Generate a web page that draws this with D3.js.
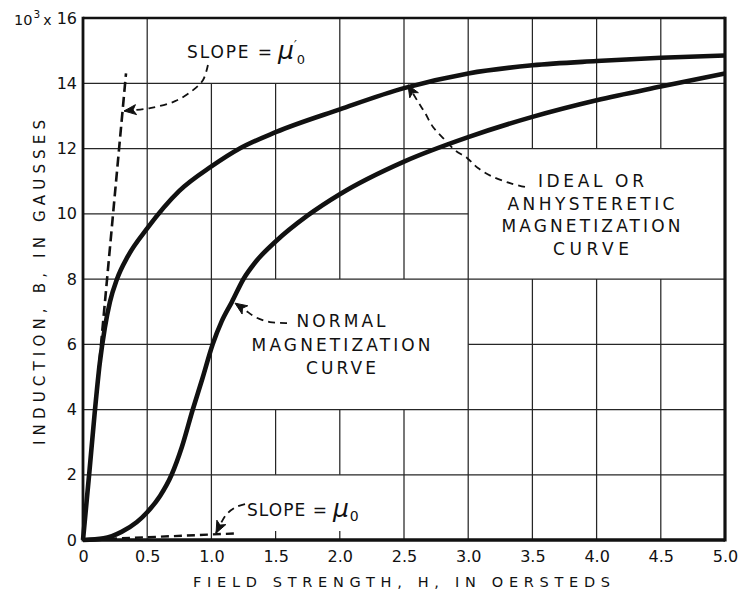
<!DOCTYPE html>
<html><head><meta charset="utf-8">
<script src="https://cdn.jsdelivr.net/npm/d3@7"></script>
<style>
body{margin:0;background:#fff;}
svg text{font-family:"DejaVu Sans",sans-serif;fill:#111;}
</style></head><body>
<svg id="c" width="745" height="592"></svg>
<script>
// ---------- data ----------
const xTicks=[0,0.5,1.0,1.5,2.0,2.5,3.0,3.5,4.0,4.5,5.0];
const xTickLabels=["0","0.5","1.0","1.5","2.0","2.5","3.0","3.5","4.0","4.5","5.0"];
const yTicks=[0,2,4,6,8,10,12,14,16];
const yTickLabels=["0","2","4","6","8","10","12","14","16"];
const yUnitPrefix="10";
const yUnitExp="3";
const xTitle="FIELD STRENGTH, H, IN OERSTEDS";
const yTitle="INDUCTION, B, IN GAUSSES";

// ideal (anhysteretic) magnetization curve
const idealH=[0,0.05,0.09,0.13,0.17,0.21,0.265,0.35,0.5,0.75,1.0,1.22,1.5,2.0,2.5,3.0,3.5,4.0,4.5,5.0];
const idealB=[0,2.1,3.85,5.4,6.5,7.3,8.0,8.7,9.55,10.7,11.45,12.0,12.5,13.2,13.85,14.3,14.55,14.68,14.78,14.85];
// normal magnetization curve
const normalH=[0,0.16,0.3,0.42,0.5,0.6,0.69,0.77,0.855,0.93,1.01,1.08,1.16,1.25,1.35,1.5,1.75,2.0,2.5,3.0,3.5,4.0,4.5,5.0];
const normalB=[0,0.05,0.25,0.55,0.85,1.35,2.0,2.85,4.0,4.95,6.0,6.7,7.3,8.0,8.55,9.15,9.95,10.6,11.6,12.35,12.97,13.48,13.9,14.3];
// tangent lines
const slopeMu0PrimeH=[0,0.335];
const slopeMu0PrimeB=[0,14.3];
const slopeMu0H=[0,1.18];
const slopeMu0B=[0,0.2];

// blank (label) areas of the grid: H range x B range
const blankH0=[0.5,3.0,1.0,1.0];
const blankH1=[2.0,5.0,3.0,2.5];
const blankB0=[14,8,4,0];
const blankB1=[16,12,8,2];

// annotation leader curves (H,B)
const arrowMu0PrimeH=[0.973,0.935,0.857,0.717,0.522,0.32];
const arrowMu0PrimeB=[14.56,14.10,13.79,13.45,13.24,13.15];
const arrowIdealH=[3.442,3.326,3.193,3.076,2.991,2.897,2.819,2.726,2.664,2.609,2.531];
const arrowIdealB=[10.82,10.94,11.13,11.40,11.71,11.95,12.26,12.66,13.09,13.43,13.95];
const arrowNormalH=[1.589,1.456,1.339,1.262,1.184];
const arrowNormalB=[6.65,6.68,6.84,7.05,7.26];
const arrowMu0H=[1.262,1.192,1.121,1.075,1.036];
const arrowMu0B=[1.10,1.01,0.80,0.52,0.21];

const idealLabel=["IDEAL OR","ANHYSTERETIC","MAGNETIZATION","CURVE"];
const normalLabel=["NORMAL","MAGNETIZATION","CURVE"];
const slopeWord="SLOPE =";
const muChar="\u03BC";

// ---------- layout ----------
const svg=d3.select("#c");
const x=d3.scaleLinear().domain([0,5]).range([83,725]);
const y=d3.scaleLinear().domain([0,16]).range([540,18]);
const ink="#111";

const zip=(a,b)=>a.map((v,i)=>[v,b[i]]);

// grid with blank label areas
function segments(v,isVertical){
  const full=isVertical?[0,16]:[0,5];
  let cuts=[];
  blankH0.forEach((h0,i)=>{
    const h1=blankH1[i],b0=blankB0[i],b1=blankB1[i];
    if(isVertical){ if(v>h0+1e-9&&v<h1-1e-9) cuts.push([b0,b1]); }
    else { if(v>b0+1e-9&&v<b1-1e-9) cuts.push([h0,h1]); }
  });
  cuts.sort((a,b)=>a[0]-b[0]);
  const segs=[];let s=full[0];
  cuts.forEach(c=>{ if(c[0]>s) segs.push([s,c[0]]); s=Math.max(s,c[1]); });
  if(s<full[1]) segs.push([s,full[1]]);
  return segs;
}
const grid=svg.append("g").attr("stroke","#262626").attr("stroke-width",1.25).attr("fill","none");
xTicks.slice(1,-1).forEach(v=>{
  segments(v,true).forEach(sg=>{
    grid.append("line").attr("x1",x(v)).attr("x2",x(v)).attr("y1",y(sg[0])).attr("y2",y(sg[1]));
  });
  blankH0.forEach((h0,i)=>{
    if(blankB0[i]===0&&v>h0&&v<blankH1[i]){
      grid.append("line").attr("x1",x(v)).attr("x2",x(v)).attr("y1",y(0)).attr("y2",y(0)-9);
    }
  });
});
yTicks.slice(1,-1).forEach(v=>{
  segments(v,false).forEach(sg=>{
    grid.append("line").attr("x1",x(sg[0])).attr("x2",x(sg[1])).attr("y1",y(v)).attr("y2",y(v));
  });
});

// tangent dashed lines
const lineGen=d3.line().x(d=>x(d[0])).y(d=>y(d[1]));
svg.append("path").attr("d",lineGen(zip(slopeMu0PrimeH,slopeMu0PrimeB)))
  .attr("fill","none").attr("stroke",ink).attr("stroke-width",2.6).attr("stroke-dasharray","10,5");
svg.append("path").attr("d",lineGen(zip(slopeMu0H,slopeMu0B)))
  .attr("fill","none").attr("stroke",ink).attr("stroke-width",2.4).attr("stroke-dasharray","8,5");

// curves
const curveGen=d3.line().x(d=>x(d[0])).y(d=>y(d[1])).curve(d3.curveMonotoneX);
svg.append("path").attr("d",curveGen(zip(idealH,idealB)))
  .attr("fill","none").attr("stroke",ink).attr("stroke-width",4.6).attr("stroke-linejoin","round");
svg.append("path").attr("d",curveGen(zip(normalH,normalB)))
  .attr("fill","none").attr("stroke",ink).attr("stroke-width",4.6).attr("stroke-linejoin","round");

// frame
svg.append("line").attr("x1",x(0)).attr("x2",x(5)).attr("y1",y(16)).attr("y2",y(16)).attr("stroke",ink).attr("stroke-width",2.6);
svg.append("line").attr("x1",x(0)).attr("x2",x(5)).attr("y1",y(0)).attr("y2",y(0)).attr("stroke",ink).attr("stroke-width",3.4);
svg.append("line").attr("x1",x(0)).attr("x2",x(0)).attr("y1",y(0)+1.5).attr("y2",y(16)-1.2).attr("stroke",ink).attr("stroke-width",2.8);
svg.append("line").attr("x1",x(5)).attr("x2",x(5)).attr("y1",y(0)+1.5).attr("y2",y(16)-1.2).attr("stroke",ink).attr("stroke-width",3.2);

// annotation leaders with arrowheads
const leaderGen=d3.line().x(d=>x(d[0])).y(d=>y(d[1])).curve(d3.curveCatmullRom);
function leader(hs,bs){
  const pts=zip(hs,bs);
  svg.append("path").attr("d",leaderGen(pts)).attr("fill","none").attr("stroke",ink)
    .attr("stroke-width",1.8).attr("stroke-dasharray","7,5");
  const n=pts.length;
  const tx=x(pts[n-1][0]),ty=y(pts[n-1][1]);
  const px=x(pts[n-2][0]),py=y(pts[n-2][1]);
  const a=Math.atan2(ty-py,tx-px);
  const L=12,W=5;
  const bx=tx-L*Math.cos(a),by=ty-L*Math.sin(a);
  const nx=-Math.sin(a),ny=Math.cos(a);
  svg.append("path").attr("d",`M${tx},${ty}L${bx+W*nx},${by+W*ny}L${bx+3*Math.cos(a)},${by+3*Math.sin(a)}L${bx-W*nx},${by-W*ny}Z`)
    .attr("fill",ink).attr("stroke",ink).attr("stroke-width",1);
}
leader(arrowMu0PrimeH,arrowMu0PrimeB);
leader(arrowIdealH,arrowIdealB);
leader(arrowNormalH,arrowNormalB);
leader(arrowMu0H,arrowMu0B);

// axes (tick labels)
const xAxis=d3.axisBottom(x).tickValues(xTicks).tickFormat((d,i)=>xTickLabels[i]).tickSize(0).tickPadding(11);
const gx=svg.append("g").attr("transform",`translate(0,${y(0)})`).call(xAxis);
gx.select(".domain").remove();
gx.selectAll("text").attr("font-size",16).attr("font-family","DejaVu Sans").attr("fill",ink);

const yAxis=d3.axisLeft(y).tickValues(yTicks).tickFormat((d,i)=>yTickLabels[i]).tickSize(0).tickPadding(6);
const gy=svg.append("g").attr("transform",`translate(${x(0)},0)`).call(yAxis);
gy.select(".domain").remove();
gy.selectAll("text").attr("font-size",16).attr("font-family","DejaVu Sans").attr("fill",ink);

// unit prefix "10^3 x"
const pre=svg.append("text").attr("x",14).attr("y",y(16)+7).attr("font-size",14.5);
pre.append("tspan").text(yUnitPrefix);
pre.append("tspan").attr("font-size",10.5).attr("dy",-7).attr("dx",1).text(yUnitExp);
pre.append("tspan").attr("dy",7).attr("dx",3).attr("font-size",14).text("x");

// axis titles
svg.append("text").attr("x",193).attr("y",587).attr("font-size",14.5)
  .attr("textLength",417).attr("lengthAdjust","spacing").text(xTitle);
svg.append("text").attr("transform",`translate(45,445) rotate(-90)`).attr("font-size",15)
  .attr("textLength",325).attr("lengthAdjust","spacing").text(yTitle);

// annotation labels
function block(lines,cx,baselines,widths){
  lines.forEach((t,i)=>{
    svg.append("text").attr("x",cx-widths[i]/2).attr("y",baselines[i]).attr("font-size",17)
      .attr("textLength",widths[i]).attr("lengthAdjust","spacing").text(t);
  });
}
block(idealLabel,x(3.956),[187,210,232,255],[106,167,179,76]);
block(normalLabel,x(2.01),[327,351,374],[89,179,70]);

function slopeLabel(h,b,wordW,prime){
  const tx=x(h),ty=y(b);
  svg.append("text").attr("x",tx).attr("y",ty).attr("font-size",17)
    .attr("textLength",wordW).attr("lengthAdjust","spacing").text(slopeWord);
  const m=svg.append("text").attr("x",tx+wordW+6).attr("y",ty+1).attr("font-size",25)
    .attr("font-style","italic");
  m.append("tspan").text(muChar);
  if(prime){
    m.append("tspan").attr("font-size",12).attr("dx",0).attr("dy",-10).text("\u2032");
    m.append("tspan").attr("font-size",13).attr("font-style","normal").attr("dx",0).attr("dy",15).text("0");
  } else {
    m.append("tspan").attr("font-size",14).attr("font-style","normal").attr("dx",1).attr("dy",4).text("0");
  }
}
slopeLabel(0.81,14.77,85,true);
slopeLabel(1.277,0.74,80,false);
</script>
</body></html>
